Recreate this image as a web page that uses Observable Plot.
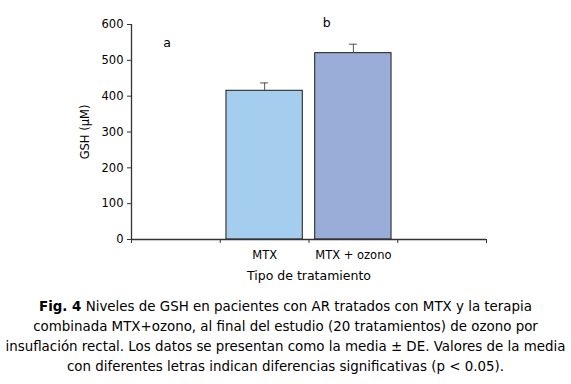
<!DOCTYPE html>
<html>
<head>
<meta charset="utf-8">
<script src="https://cdn.jsdelivr.net/npm/d3@7"></script>
<script src="https://cdn.jsdelivr.net/npm/@observablehq/plot@0.6"></script>
<style>
  body { margin: 0; background: #fff; width: 571px; }
  #chart svg { display: block; }
  #caption { font-family: "DejaVu Sans", Verdana, sans-serif; font-size: 13.4px; line-height: 20px; text-align: center; margin-top: 7px; color: #000; white-space: nowrap; }
</style>
</head>
<body>
<div id="chart"></div>
<div id="caption"><b>Fig. 4</b> Niveles de GSH en pacientes con AR tratados con MTX y la terapia<br>combinada MTX+ozono, al final del estudio (20 tratamientos) de ozono por<br>insuflación rectal. Los datos se presentan como la media ± DE. Valores de la media<br>con diferentes letras indican diferencias significativas (p &lt; 0.05).</div>
<script>
// Data
const slots = ["", "MTX", "MTX + ozono", ""];   // category slots on the x axis
const categories = ["MTX", "MTX + ozono"];
const slotIndex = [1, 2];
const means = [415, 520];
const sd = [22, 25];
const colors = ["#a5cdee", "#99add8"];
const letters = ["a", "b"];
const letterX = [0.4, 2.2];
const letterY = [547, 605];
const yTicks = [0, 100, 200, 300, 400, 500, 600];

const bars = categories.map((c, i) => ({
  cat: c, i: slotIndex[i], mean: means[i], sd: sd[i], color: colors[i]
}));
const bounds = d3.range(slots.length + 1);
const letterData = letters.map((l, i) => ({l, x: letterX[i], y: letterY[i]}));
const font = "DejaVu Sans, Verdana, sans-serif";

const chart = Plot.plot({
  width: 571,
  height: 290,
  marginLeft: 131,
  marginRight: 85,
  marginTop: 24,
  marginBottom: 51,
  style: {fontFamily: font, fontSize: "11px", color: "#000", background: "#fff"},
  x: {domain: [0, slots.length], axis: null},
  y: {domain: [0, 600], axis: null},
  marks: [
    Plot.rectY(bars, {x1: d => d.i + 0.07, x2: d => d.i + 0.93, y1: 0, y2: "mean", fill: "color", stroke: "#1a1a1a", strokeWidth: 1}),
    Plot.ruleX(bars, {x: d => d.i + 0.5, y1: "mean", y2: d => d.mean + d.sd, stroke: "#555", strokeWidth: 1}),
    Plot.ruleY(bars, {y: d => d.mean + d.sd, x1: d => d.i + 0.455, x2: d => d.i + 0.545, stroke: "#555", strokeWidth: 1}),
    // y axis
    Plot.ruleX([0], {stroke: "#333", strokeWidth: 1.3}),
    Plot.axisY({ticks: yTicks, tickSize: 4, tickPadding: 4, stroke: "#333", fontSize: 11.5, label: null}),
    // x axis baseline and boundary ticks
    Plot.ruleY([0], {stroke: "#333", strokeWidth: 1.3}),
    Plot.axisX({ticks: bounds, tickSize: 4, tickFormat: () => "", stroke: "#333", label: null}),
    Plot.text(categories, {x: (d, i) => slotIndex[i] + 0.5, y: 0, text: d => d, dy: 16, fontSize: 11.5, fill: "#000"}),
    Plot.text(["Tipo de tratamiento"], {x: slots.length / 2, y: 0, text: d => d, dy: 36, fontSize: 12.5, fill: "#000"}),
    Plot.text(["GSH (µM)"], {x: 0, y: 300, text: d => d, dx: -46, rotate: -90, fontSize: 11.5, fill: "#000"}),
    Plot.text(letterData, {x: "x", y: "y", text: "l", fontSize: 12.5, fill: "#000"})
  ]
});
document.getElementById("chart").appendChild(chart);
</script>
</body>
</html>
